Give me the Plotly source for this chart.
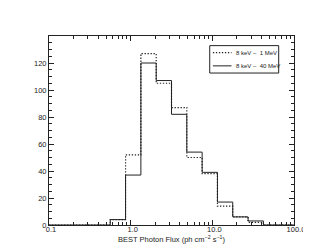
import plotly.graph_objects as go

# bin edges (ph cm^-2 s^-1), log-spaced
edges = [0.1, 0.562, 0.866, 1.334, 2.054, 3.162, 4.87, 7.50, 11.55, 17.78, 27.4, 42.2, 100.0]
# counts per bin (first and last are empty ranges)
counts_1mev = [0, 4, 52, 127, 105, 87, 50, 38, 14, 6, 2, 0]
counts_40mev = [0, 4, 37, 120, 107, 82, 54, 39, 17, 6, 3, 0]
series_names = ["8 keV –  1 MeV", "8 keV –  40 MeV"]

x_tickvals = [0.1, 1.0, 10.0, 100.0]
x_ticktext = ["0.1", "1.0", "10.0", "100.0"]
y_tickvals = [0, 20, 40, 60, 80, 100, 120]

DOT = "1.3px,1.7px"

def step(vals):
    return vals + [vals[-1]]

fig = go.Figure()
fig.add_trace(go.Scatter(x=edges, y=step(counts_1mev), mode="lines", line_shape="hv",
                         line=dict(color="#222", width=1.2, dash=DOT), name=series_names[0],
                         showlegend=False))
fig.add_trace(go.Scatter(x=edges, y=step(counts_40mev), mode="lines", line_shape="hv",
                         line=dict(color="#222", width=1), name=series_names[1],
                         showlegend=False))

FAM = "Liberation Sans, Arial, sans-serif"
font = dict(family=FAM, size=7.5, color="#222")

# compact legend box (paper coordinates)
lx0, lx1, ly0, ly1 = 0.656, 0.9375, 0.804, 0.949
rows = [(0.912, DOT, 1.2), (0.842, "solid", 1)]
fig.add_shape(type="rect", xref="paper", yref="paper", x0=lx0, x1=lx1, y0=ly0, y1=ly1,
              line=dict(color="#222", width=1), fillcolor="white", layer="above")
for (yy, dash, w), name in zip(rows, series_names):
    fig.add_shape(type="line", xref="paper", yref="paper", x0=0.669, x1=0.745, y0=yy, y1=yy,
                  line=dict(color="#222", width=w, dash=dash), layer="above")
    fig.add_annotation(xref="paper", yref="paper", x=0.755, y=yy, text=name, showarrow=False,
                       xanchor="left", yanchor="middle",
                       font=dict(family=FAM, size=6, color="#222"))

fig.update_layout(
    width=311, height=249,
    margin=dict(l=41, r=25, t=28, b=32),
    paper_bgcolor="white", plot_bgcolor="white",
    font=font,
    showlegend=False,
)
fig.update_xaxes(type="log", range=[-1, 2], tickvals=x_tickvals, ticktext=x_ticktext,
                 showgrid=False, zeroline=False, showline=True, linecolor="#222", linewidth=1,
                 mirror="ticks", ticks="inside", ticklen=5, tickcolor="#222",
                 ticklabelstandoff=-3, ticklabelshift=2,
                 minor=dict(ticks="inside", ticklen=3, tickcolor="#222", dtick="D1", showgrid=False),
                 title=dict(text="BEST Photon Flux (ph cm<sup>−2</sup> s<sup>−1</sup>)", standoff=0,
                            font=dict(size=7.5)))
fig.update_yaxes(range=[0, 140], tickvals=y_tickvals,
                 showgrid=False, zeroline=False, showline=True, linecolor="#222", linewidth=1,
                 mirror="ticks", ticks="inside", ticklen=5, tickcolor="#222",
                 minor=dict(ticks="inside", ticklen=3, tickcolor="#222", dtick=5, showgrid=False))

fig.write_html("out.html")
